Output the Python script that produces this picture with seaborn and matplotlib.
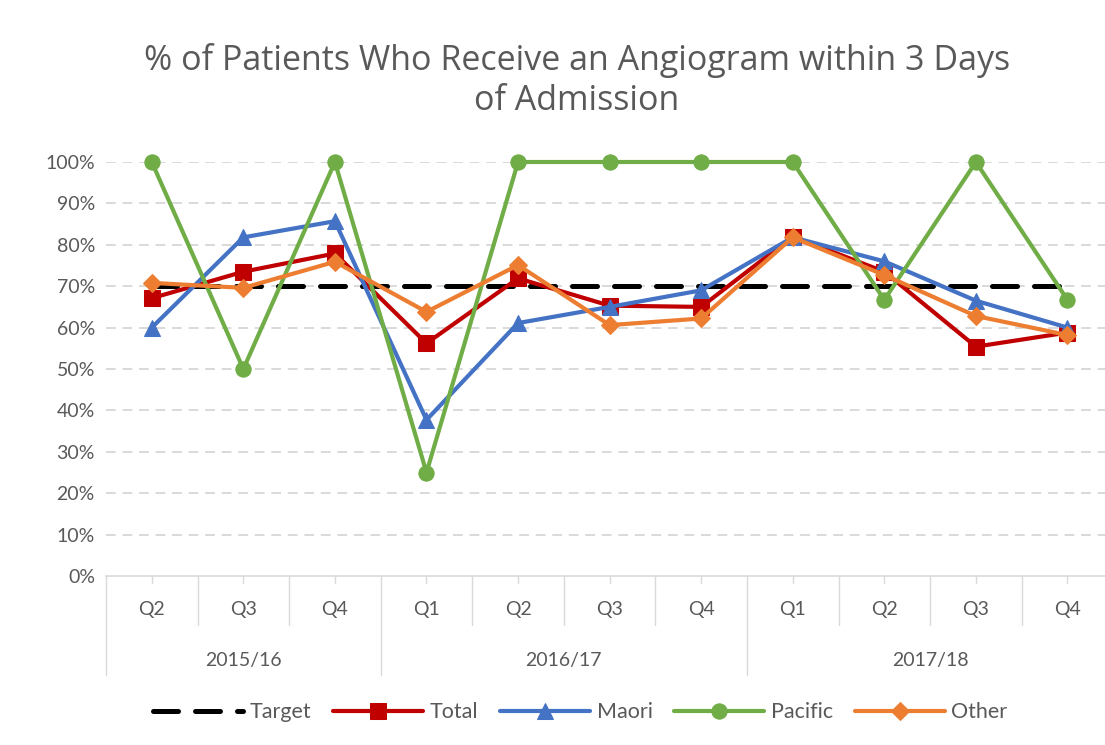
import matplotlib
matplotlib.use("Agg")
import matplotlib.pyplot as plt
import matplotlib.transforms as mtransforms
import numpy as np
import pandas as pd
import seaborn as sns

quarters = ["Q2", "Q3", "Q4", "Q1", "Q2", "Q3", "Q4", "Q1", "Q2", "Q3", "Q4"]
years = ["2015/16", "2016/17", "2017/18"]
year_counts = [3, 4, 4]

target = [0.70] * 11
total = [0.671, 0.735, 0.779, 0.562, 0.719, 0.653, 0.650, 0.820, 0.735, 0.554, 0.588]
maori = [0.600, 0.818, 0.857, 0.377, 0.611, 0.650, 0.690, 0.818, 0.760, 0.665, 0.600]
pacific = [1.0, 0.5, 1.0, 0.25, 1.0, 1.0, 1.0, 1.0, 0.667, 1.0, 0.667]
other = [0.708, 0.696, 0.759, 0.638, 0.751, 0.606, 0.622, 0.818, 0.727, 0.628, 0.582]

series = {
    "Target": target,
    "Total": total,
    "Maori": maori,
    "Pacific": pacific,
    "Other": other,
}
styles = {
    "Target": dict(color="black", marker=None, ms=0, dashes=(5.0, 3.4), lw=3.6),
    "Total": dict(color="#C00000", marker="s", ms=11, dashes=None, lw=3.0),
    "Maori": dict(color="#4472C4", marker="^", ms=11, dashes=None, lw=3.0),
    "Pacific": dict(color="#70AD47", marker="o", ms=11, dashes=None, lw=3.0),
    "Other": dict(color="#ED7D31", marker="D", ms=9, dashes=None, lw=3.0),
}

sns.set_theme(style="white")
plt.rcParams["font.family"] = ["Lato", "DejaVu Sans"]

fig = plt.figure(figsize=(11.05, 7.45), dpi=100)
ax = fig.add_axes([106 / 1105, 169 / 745, 1 - 106 / 1105, 414 / 745])

x = np.arange(len(quarters))
for name, vals in series.items():
    st = styles[name]
    df = pd.DataFrame({"x": x, "y": vals})
    kw = dict(color=st["color"], linewidth=st["lw"], label=name)
    if st["marker"]:
        kw.update(marker=st["marker"], markersize=st["ms"], markeredgecolor=st["color"])
    line = sns.lineplot(data=df, x="x", y="y", ax=ax, **kw).lines[-1]
    line.set_clip_on(False)
    if st["dashes"]:
        line.set_dashes(st["dashes"])
        line.set_dash_capstyle("round")

ax.set_xlim(-0.5, 10.41)
ax.set_ylim(0, 1.0)
ax.set_yticks(np.arange(0, 1.01, 0.1))
ax.set_yticklabels([f"{int(round(v * 100))}%" for v in np.arange(0, 1.01, 0.1)],
                   fontsize=14, color="#595959")
ax.tick_params(axis="y", length=0, pad=8)
ax.set_xticks([])
ax.set_xlabel("")
ax.set_ylabel("")
for yv in np.arange(0.1, 1.01, 0.1):
    ax.axhline(yv, color="#D9D9D9", lw=1.4, ls=(0, (5, 3.5)), zorder=0)
for s in ["left", "right", "top"]:
    ax.spines[s].set_visible(False)
ax.spines["bottom"].set_color("#D9D9D9")
ax.spines["bottom"].set_linewidth(1.2)

# multi-level category axis
trans = mtransforms.blended_transform_factory(ax.transData, ax.transAxes)
sep_col = "#D9D9D9"
for i, q in enumerate(quarters):
    ax.text(i, -0.082, q, transform=trans, ha="center", va="center",
            fontsize=14, color="#595959")
    ax.plot([i, i], [0, -0.018], transform=trans, color=sep_col, lw=1, clip_on=False)
bounds = np.cumsum([0] + year_counts) - 0.5
for b in np.arange(-0.5, 10.6, 1.0):
    if b in bounds:
        ax.plot([b, b], [0, -0.24], transform=trans, color=sep_col, lw=1, clip_on=False)
    else:
        ax.plot([b, b], [0, -0.118], transform=trans, color=sep_col, lw=1, clip_on=False)
for yr, lo, hi in zip(years, bounds[:-1], bounds[1:]):
    ax.text((lo + hi) / 2, -0.203, yr, transform=trans, ha="center", va="center",
            fontsize=14, color="#595959")

fig.text(0.522, 0.892, "% of Patients Who Receive an Angiogram within 3 Days\nof Admission",
         ha="center", va="center", fontsize=24.5, color="#595959",
         family=["Open Sans", "DejaVu Sans"], linespacing=1.25)

leg = ax.legend(loc="center", bbox_to_anchor=(0.525, 0.044), bbox_transform=fig.transFigure,
                ncol=5, frameon=False, fontsize=15.5, handlelength=4.2,
                columnspacing=1.0, handletextpad=0.3)
for t in leg.get_texts():
    t.set_color("#595959")

fig.savefig("out.png", dpi=100, facecolor="white")
